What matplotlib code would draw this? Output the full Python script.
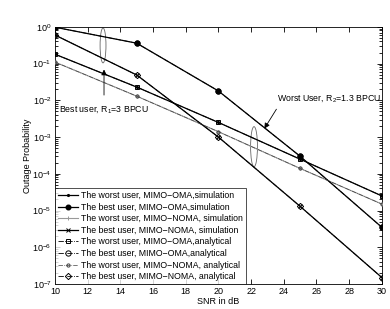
import matplotlib
matplotlib.use("Agg")
import matplotlib.pyplot as plt
from matplotlib.patches import Ellipse
from matplotlib.ticker import FixedLocator, NullFormatter

plt.rcParams['font.family'] = ['Liberation Sans', 'DejaVu Sans']
plt.rcParams['mathtext.fontset'] = 'custom'
plt.rcParams['mathtext.rm'] = 'Liberation Sans'
plt.rcParams['mathtext.it'] = 'Liberation Sans'

snr = [10, 15, 20, 25, 30]
worst_oma = [0.18, 0.023, 2.5e-3, 2.5e-4, 2.5e-5]
best_oma = [0.98, 0.36, 0.018, 3.0e-4, 3.5e-6]
worst_noma = [0.11, 0.013, 1.4e-3, 1.4e-4, 1.5e-5]
best_noma = [0.6, 0.049, 1.0e-3, 1.3e-5, 1.5e-7]
y_exponents = [-7, -6, -5, -4, -3, -2, -1, 0]

labels = [
    "The worst user, MIMO\u2212OMA,simulation",
    "The best user, MIMO\u2212OMA,simulation",
    "The worst user, MIMO\u2212NOMA, simulation",
    "The best user, MIMO\u2212NOMA, simulation",
    "The worst user, MIMO\u2212OMA,analytical",
    "The best user, MIMO\u2212OMA,analytical",
    "The worst user, MIMO\u2212NOMA, analytical",
    "The best user, MIMO\u2212NOMA, analytical",
]

fig = plt.figure(figsize=(3.9, 3.09), dpi=100)
ax = fig.add_axes([0.141, 0.081, 0.838, 0.832])

fs = 6.5
# simulation
ax.plot(snr, worst_oma, '-', color='black', lw=0.9, marker='.', ms=2.5, label=labels[0], zorder=4)
ax.plot(snr, best_oma, '-', color='black', lw=0.9, marker='o', ms=3.3, label=labels[1], zorder=4)
ax.plot(snr, worst_noma, '-', color='0.6', lw=0.8, marker='+', ms=3.5, mew=0.7, label=labels[2], zorder=3)
ax.plot(snr, best_noma, '-', color='black', lw=0.9, marker='x', ms=2.5, mew=0.7, label=labels[3], zorder=4)
# analytical
ax.plot(snr, worst_oma, '-.', color='black', lw=0.6, marker='s', ms=3.3, mfc='none', mew=0.7, label=labels[4], zorder=3)
ax.plot(snr, best_oma, '-.', color='black', lw=0.6, marker='o', ms=3.8, mfc='none', mew=0.7, label=labels[5], zorder=3)
ax.plot(snr, worst_noma, '-.', color='0.25', lw=0.5, marker='o', ms=2.3, mfc='none', mew=0.7, label=labels[6], zorder=4)
ax.plot(snr, best_noma, '-.', color='black', lw=0.6, marker='D', ms=3.2, mfc='none', mew=0.7, label=labels[7], zorder=3)

ax.set_yscale('log')
ax.set_xlim(10, 30)
ax.set_ylim(1e-7, 1)
ax.set_xticks(range(10, 31, 2))
major = [10.0 ** e for e in y_exponents]
ax.set_yticks(major)
ax.set_yticklabels(["$10^{%d}$" % e for e in y_exponents])
minor = [m * 10.0 ** e for e in y_exponents[:-1] for m in range(2, 10)]
ax.yaxis.set_minor_locator(FixedLocator(minor))
ax.yaxis.set_minor_formatter(NullFormatter())
ax.tick_params(which='both', direction='in', top=True, right=True, labelsize=fs, width=0.6, pad=2.5)
ax.tick_params(which='major', length=3.5)
ax.tick_params(which='minor', length=2)
for s in ax.spines.values():
    s.set_linewidth(0.6)
ax.set_xlabel("SNR in dB", fontsize=fs, labelpad=0.5)
ax.set_ylabel("Outage Probability", fontsize=fs, labelpad=0)

leg = ax.legend(loc='lower left', fontsize=6.3, frameon=True, fancybox=False,
                edgecolor='black', borderaxespad=0, labelspacing=0.3,
                handlelength=2.3, handletextpad=0.4, borderpad=0.3)
leg.get_frame().set_linewidth(0.6)
leg.set_zorder(6)

# ellipses
ax.add_patch(Ellipse((0.147, 0.928), 0.018, 0.136, transform=ax.transAxes,
                     fill=False, edgecolor='0.4', lw=0.6))
ax.add_patch(Ellipse((0.609, 0.534), 0.021, 0.156, transform=ax.transAxes,
                     fill=False, edgecolor='0.4', lw=0.6))

ax.annotate("", xy=(0.150, 0.845), xytext=(0.150, 0.724), xycoords='axes fraction',
            arrowprops=dict(arrowstyle='-|>', color='black', lw=0.6, mutation_scale=8))
ax.text(0.012, 0.68, "Best user, R$_1$=3 BPCU", transform=ax.transAxes,
        fontsize=6.3, va='center', ha='left')
ax.annotate("", xy=(0.636, 0.595), xytext=(0.682, 0.689), xycoords='axes fraction',
            arrowprops=dict(arrowstyle='-|>', color='black', lw=0.6, mutation_scale=8))
ax.text(0.679, 0.72, "Worst User, R$_2$=1.3 BPCU", transform=ax.transAxes,
        fontsize=6.3, va='center', ha='left')

fig.savefig("out.png", dpi=100)
